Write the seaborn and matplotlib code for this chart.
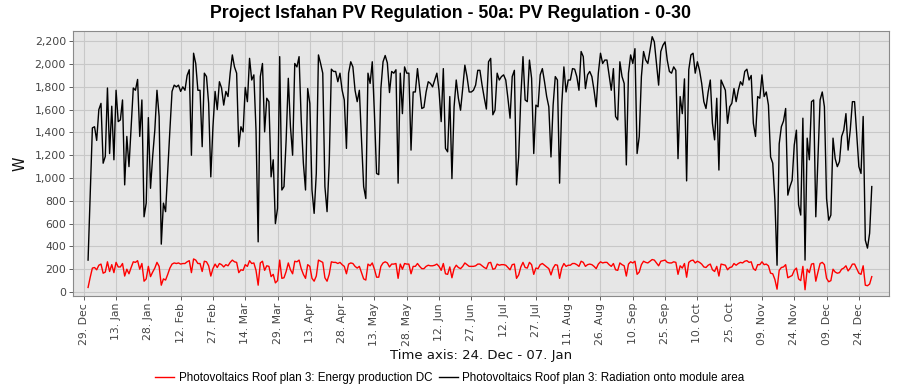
import matplotlib
matplotlib.use("Agg")
import matplotlib.pyplot as plt
import matplotlib.dates as mdates
from matplotlib.ticker import FuncFormatter
import pandas as pd
import seaborn as sns

# ---------------- data ----------------
start_date = "2022-12-31"
x_range = ("2022-12-24", "2024-01-07")
tick_start = "2022-12-29"
tick_count = 25

radiation = [
    280, 870, 1440, 1450, 1330, 1600, 1655, 1130, 1190, 1790,
    1215, 1630, 1160, 1770, 1495, 1510, 1685, 940, 1365, 1100,
    1450, 1790, 1770, 1865, 1365, 1685, 660, 780, 1530, 910,
    1190, 1420, 1770, 1540, 420, 780, 705, 1070, 1420, 1760,
    1815, 1800, 1815, 1760, 1800, 1770, 1900, 1950, 1200, 2095,
    2005, 1770, 1770, 1275, 1920, 1890, 1655, 1010, 1450, 1760,
    1600, 1845, 1790, 1640, 1760, 1715, 1920, 2080, 1975, 1920,
    1275, 1450, 1405, 1795, 1670, 2050, 1860, 1905, 1420, 440,
    1890, 2005, 1405, 1700, 1670, 1010, 1160, 600, 735, 2065,
    895, 925, 1335, 1875, 1450, 1200, 2005, 1975, 2065, 1510,
    1130, 895, 1785, 1655, 895, 690, 1040, 2080, 2005, 1920,
    925, 705, 1130, 1955, 1935, 1935, 1845, 1920, 1770, 1685,
    1260, 1920, 2020, 1975, 1770, 1670, 1770, 1335, 925, 820,
    1920, 1830, 2020, 1565, 1040, 1030, 1785, 2020, 2075, 2010,
    1750, 1935, 1920, 1950, 955, 1920, 1565, 1975, 1920, 1920,
    1245, 1755, 1755, 1960, 1785, 1610, 1620, 1755, 1845, 1830,
    1800, 1860, 1920, 1770, 1495, 1960, 1260, 1230, 1715, 995,
    1625, 1860, 1700, 1595, 1785, 1990, 1890, 1755, 1755, 1770,
    1815, 1945, 1945, 1815, 1705, 1605, 2020, 2050, 1555, 1595,
    1920, 1860, 1890, 1905, 1860, 1700, 1525, 1890, 1945, 940,
    1185, 1715, 2065, 1685, 1670, 2035, 1875, 1215, 1640, 1625,
    1905, 1960, 1845, 1715, 1625, 1185, 1640, 1890, 1860, 955,
    1640, 1975, 1755, 1860, 1860, 1960, 1955, 1890, 1770, 2110,
    2065, 1785, 1905, 1935, 1890, 1770, 1625, 1920, 2095, 2005,
    2035, 2035, 1905, 1770, 1960, 1540, 1510, 2020, 1890, 1830,
    1115, 1920, 2080, 2005, 2135, 1215, 1365, 1890, 2110, 2035,
    2005, 2125, 2240, 2195, 2005, 1815, 2110, 2165, 2195, 2035,
    1935, 1920, 1975, 1945, 1170, 1715, 1565, 1870, 975, 1950,
    2080, 2095, 1920, 2020, 1945, 1830, 1670, 1610, 1755, 1860,
    1480, 1335, 1700, 1070, 1860, 1815, 1770, 1480, 1625, 1655,
    1785, 1670, 1770, 1845, 1815, 1935, 1955, 1860, 1900, 1480,
    1365, 1715, 1700, 1905, 1715, 1755, 1640, 1185, 1130, 805,
    235, 1300, 1450, 1500, 1610, 850, 925, 980, 1290, 1420,
    765, 675, 1525, 280, 1350, 1160, 1670, 1685, 660, 1185,
    1685, 1755, 1625, 820, 630, 675, 1350, 1170, 1100, 1145,
    1365, 1420, 1565, 1245, 1420, 1670, 1670, 1390, 1100, 1040,
    1540, 455, 385, 515, 925,
]

energy_dc = [
    40, 130, 210, 215, 195, 235, 245, 165, 175, 265,
    180, 240, 170, 260, 220, 220, 250, 140, 200, 160,
    215, 265, 260, 275, 200, 250, 95, 115, 225, 135,
    175, 210, 260, 225, 60, 115, 105, 155, 210, 245,
    255, 250, 255, 245, 250, 250, 265, 275, 170, 290,
    280, 250, 250, 180, 270, 265, 230, 140, 205, 245,
    215, 250, 240, 220, 240, 230, 260, 280, 265, 260,
    170, 195, 190, 240, 225, 275, 250, 255, 190, 60,
    255, 270, 190, 230, 225, 135, 155, 80, 100, 280,
    120, 125, 180, 255, 195, 160, 270, 265, 280, 205,
    155, 120, 240, 225, 120, 95, 140, 280, 270, 260,
    125, 95, 155, 265, 260, 260, 250, 260, 240, 225,
    160, 245, 255, 250, 225, 210, 225, 170, 115, 105,
    245, 230, 255, 200, 130, 130, 225, 255, 265, 255,
    220, 245, 245, 250, 120, 245, 200, 250, 245, 245,
    160, 225, 225, 250, 225, 205, 205, 225, 235, 230,
    230, 235, 245, 225, 190, 250, 160, 155, 220, 125,
    205, 235, 215, 205, 225, 255, 240, 225, 225, 225,
    230, 245, 245, 230, 215, 205, 255, 260, 200, 205,
    245, 235, 240, 240, 235, 215, 195, 240, 245, 120,
    150, 220, 260, 215, 210, 260, 240, 155, 210, 205,
    240, 250, 235, 220, 205, 150, 210, 240, 235, 120,
    210, 250, 225, 235, 235, 250, 250, 240, 225, 270,
    260, 225, 240, 245, 240, 225, 205, 245, 265, 255,
    260, 260, 240, 225, 250, 195, 190, 255, 240, 230,
    140, 245, 265, 255, 270, 155, 175, 240, 270, 260,
    255, 270, 285, 280, 255, 230, 270, 275, 280, 260,
    255, 255, 265, 260, 155, 230, 210, 250, 130, 260,
    275, 280, 255, 270, 260, 245, 220, 215, 235, 245,
    195, 180, 225, 140, 245, 240, 235, 195, 215, 220,
    250, 235, 250, 260, 255, 270, 275, 260, 265, 205,
    190, 240, 240, 265, 240, 245, 230, 165, 160, 110,
    25, 190, 215, 220, 240, 125, 135, 145, 190, 210,
    115, 100, 225, 20, 200, 170, 245, 250, 95, 175,
    250, 260, 240, 120, 90, 100, 200, 175, 165, 170,
    200, 210, 230, 185, 210, 245, 245, 205, 165, 155,
    230, 60, 55, 70, 135,
]

series_names = [
    "Photovoltaics Roof plan 3: Energy production DC",
    "Photovoltaics Roof plan 3: Radiation onto module area",
]
series_colors = ["#FF0000", "#000000"]
title = "Project Isfahan PV Regulation - 50a: PV Regulation - 0-30"
x_label = "Time axis: 24. Dec - 07. Jan"
y_label = "W"
y_ticks = list(range(0, 2201, 200))

# ---------------- build frame ----------------
n = min(len(radiation), len(energy_dc))
dates = pd.date_range(start_date, periods=n, freq="D")
df = pd.concat([
    pd.DataFrame({"date": dates, "value": energy_dc[:n], "series": series_names[0]}),
    pd.DataFrame({"date": dates, "value": radiation[:n], "series": series_names[1]}),
], ignore_index=True)

# ---------------- plot ----------------
fig = plt.figure(figsize=(9.0, 3.89), dpi=100)
fig.patch.set_facecolor("white")
ax = fig.add_axes([73 / 900, 1 - 296 / 389, (889 - 73) / 900, (296 - 31) / 389])
ax.set_facecolor("#E6E6E6")

sns.lineplot(
    data=df, x="date", y="value", hue="series",
    hue_order=series_names, palette=series_colors,
    linewidth=1.0, ax=ax, legend=False, estimator=None, sort=False,
)

ax.set_xlim(pd.Timestamp(x_range[0]), pd.Timestamp(x_range[1]))
ax.set_ylim(-35, 2290)

tick_dates = pd.date_range(tick_start, periods=tick_count, freq="15D")
ax.set_xticks(tick_dates)
ax.xaxis.set_major_formatter(mdates.DateFormatter("%d. %b"))
ax.set_yticks(y_ticks)
ax.yaxis.set_major_formatter(FuncFormatter(lambda v, p: f"{v:,.0f}"))

ax.grid(True, color="#C8C8C8", linewidth=0.8)
ax.set_axisbelow(True)
for s in ax.spines.values():
    s.set_color("#8A8A8A")
    s.set_linewidth(0.8)

ax.tick_params(axis="x", labelrotation=90, labelsize=7.8, colors="#444444",
               length=3, width=0.6, pad=2)
ax.tick_params(axis="y", labelsize=7.8, colors="#444444", length=3, width=0.6, pad=2)
for lab in ax.get_xticklabels() + ax.get_yticklabels():
    lab.set_family("DejaVu Sans")

ax.set_xlabel(x_label, fontsize=9.5, family="DejaVu Sans", color="#111111", labelpad=2)
ax.set_ylabel(y_label, fontsize=10.5, family="DejaVu Sans", color="#111111", labelpad=5)

fig.text(0.5, 1 - 13 / 389, title, ha="center", va="center",
         fontsize=12.8, fontweight="bold", family="Liberation Sans")

handles = [plt.Line2D([], [], color=c, linewidth=1.0) for c in series_colors]
fig.legend(handles, series_names, loc="center", bbox_to_anchor=(0.5, 1 - 378 / 389),
           ncol=2, frameon=False, handlelength=1.6, handletextpad=0.4,
           columnspacing=0.6, prop={"family": "Liberation Sans", "size": 8.4})

fig.savefig("out.png", dpi=100, facecolor="white")
